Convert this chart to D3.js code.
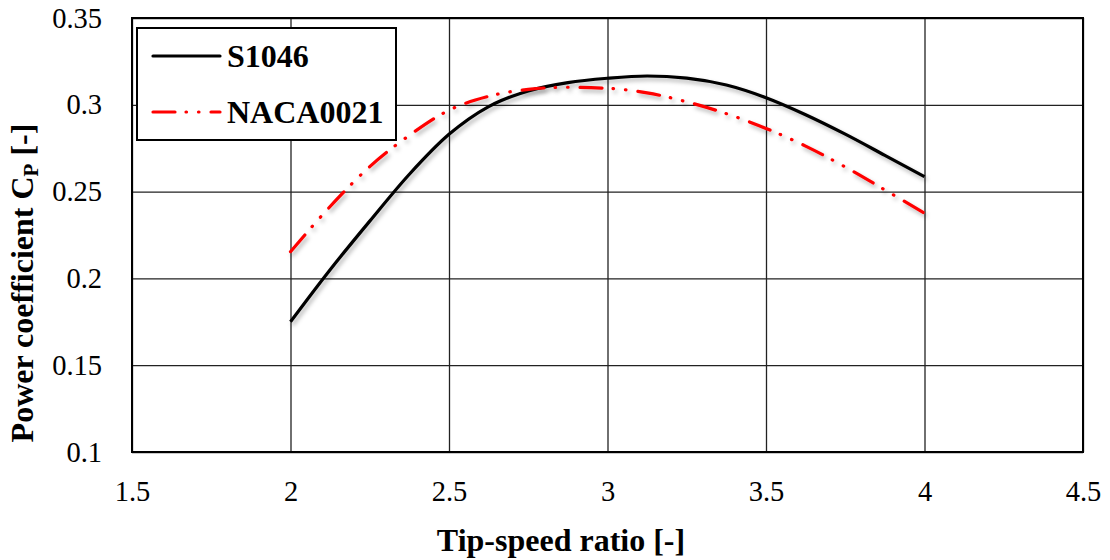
<!DOCTYPE html>
<html>
<head>
<meta charset="utf-8">
<script src="https://cdn.jsdelivr.net/npm/d3@7"></script>
<style>
  body { margin: 0; background: #fff; }
</style>
</head>
<body>
<script>
const FONT = "'Liberation Serif', 'Times New Roman', Times, serif";
const tsr = [2, 2.125, 2.25, 2.375, 2.5, 2.625, 2.75, 2.875, 3, 3.125, 3.25, 3.375, 3.5, 3.625, 3.75, 3.875, 4];
const s1046 = [0.175, 0.205, 0.233, 0.260, 0.283, 0.299, 0.308, 0.3128, 0.3153, 0.3166, 0.3154, 0.3114, 0.3041, 0.2943, 0.2831, 0.2709, 0.2586];
const naca0021 = [0.2154, 0.2414, 0.2644, 0.2824, 0.2969, 0.3049, 0.3089, 0.3101, 0.3095, 0.3069, 0.3017, 0.2949, 0.2864, 0.2762, 0.2642, 0.2510, 0.2375];
const xTicks = [1.5, 2, 2.5, 3, 3.5, 4, 4.5];
const yTicks = [0.1, 0.15, 0.2, 0.25, 0.3, 0.35];

let width = 1110, height = 560;
let margin = { top: 18, right: 27, bottom: 108, left: 132 };

let svg = d3.select("body").append("svg")
  .attr("width", width).attr("height", height)
  .style("font-family", FONT);

let defs = svg.append("defs");
let f = defs.append("filter").attr("id", "shadow")
  .attr("x", "-10%").attr("y", "-10%").attr("width", "120%").attr("height", "130%");
f.append("feDropShadow").attr("dx", 2).attr("dy", 3).attr("stdDeviation", 2)
  .attr("flood-color", "#000").attr("flood-opacity", 0.3);

let xScale = d3.scaleLinear().domain([1.5, 4.5]).range([margin.left, width - margin.right]);
let yScale = d3.scaleLinear().domain([0.1, 0.35]).range([height - margin.bottom, margin.top]);

// grid
svg.append("g")
  .attr("transform", `translate(0, ${margin.top})`)
  .call(d3.axisBottom(xScale).tickValues(xTicks).tickSize(height - margin.bottom - margin.top).tickFormat(""))
  .call(g => g.select(".domain").remove())
  .call(g => g.selectAll("line").attr("stroke", "#222").attr("stroke-width", 1.3));
svg.append("g")
  .attr("transform", `translate(${margin.left}, 0)`)
  .call(d3.axisRight(yScale).tickValues(yTicks).tickSize(width - margin.left - margin.right).tickFormat(""))
  .call(g => g.select(".domain").remove())
  .call(g => g.selectAll("line").attr("stroke", "#222").attr("stroke-width", 1.3));

// frame
svg.append("rect")
  .attr("x", margin.left).attr("y", margin.top)
  .attr("width", width - margin.left - margin.right)
  .attr("height", height - margin.bottom - margin.top)
  .attr("fill", "none").attr("stroke", "#000").attr("stroke-width", 2);

// tick labels
svg.append("g")
  .attr("transform", `translate(0, ${height - margin.bottom})`)
  .call(d3.axisBottom(xScale).tickValues(xTicks).tickSize(0).tickPadding(29).tickFormat(d => d))
  .attr("font-family", FONT)
  .call(g => g.select(".domain").remove())
  .call(g => g.selectAll("text").attr("fill", "#000").style("font-size", "28.5px"));
svg.append("g")
  .attr("transform", `translate(${margin.left}, 0)`)
  .call(d3.axisLeft(yScale).tickValues(yTicks).tickSize(0).tickPadding(30).tickFormat(d => d))
  .attr("font-family", FONT)
  .call(g => g.select(".domain").remove())
  .call(g => g.selectAll("text").attr("fill", "#000").style("font-size", "28.5px"));

// lines
let line = d3.line()
  .x((d, i) => xScale(tsr[i]))
  .y(d => yScale(d))
  .curve(d3.curveMonotoneX);

svg.append("path")
  .attr("d", line(s1046))
  .attr("fill", "none").attr("stroke", "#000").attr("stroke-width", 3.2)
  .attr("filter", "url(#shadow)");
svg.append("path")
  .attr("d", line(naca0021))
  .attr("fill", "none").attr("stroke", "#ff0000").attr("stroke-width", 3.2)
  .attr("stroke-linecap", "round")
  .attr("stroke-dasharray", "22 11 0.5 12 0.5 12")
  .attr("filter", "url(#shadow)");

// legend
let legend = svg.append("g");
legend.append("rect")
  .attr("x", 137).attr("y", 28).attr("width", 259).attr("height", 112)
  .attr("fill", "#fff").attr("stroke", "#000").attr("stroke-width", 2);
let items = [
  { name: "S1046", color: "#000", dash: null, y: 56 },
  { name: "NACA0021", color: "#ff0000", dash: "22 11 0.5 12 0.5 12", y: 112 }
];
items.forEach(it => {
  legend.append("line")
    .attr("x1", 153).attr("x2", 220).attr("y1", it.y).attr("y2", it.y)
    .attr("stroke", it.color).attr("stroke-width", 3.2)
    .attr("stroke-linecap", "round")
    .attr("stroke-dasharray", it.dash);
  legend.append("text")
    .attr("x", 227).attr("y", it.y + 11)
    .style("font-size", "32px").style("font-weight", "bold")
    .text(it.name);
});

// axis titles
svg.append("text")
  .attr("x", 561).attr("y", 551)
  .attr("text-anchor", "middle")
  .style("font-size", "32px").style("font-weight", "bold")
  .text("Tip-speed ratio [-]");

let yt = svg.append("text")
  .attr("transform", "translate(33, 283) rotate(-90)")
  .attr("text-anchor", "middle")
  .style("font-size", "32px").style("font-weight", "bold");
yt.append("tspan").text("Power coefficient C");
yt.append("tspan").attr("dy", 5).style("font-size", "21px").text("P");
yt.append("tspan").attr("dy", -5).text(" [-]");
</script>
</body>
</html>
